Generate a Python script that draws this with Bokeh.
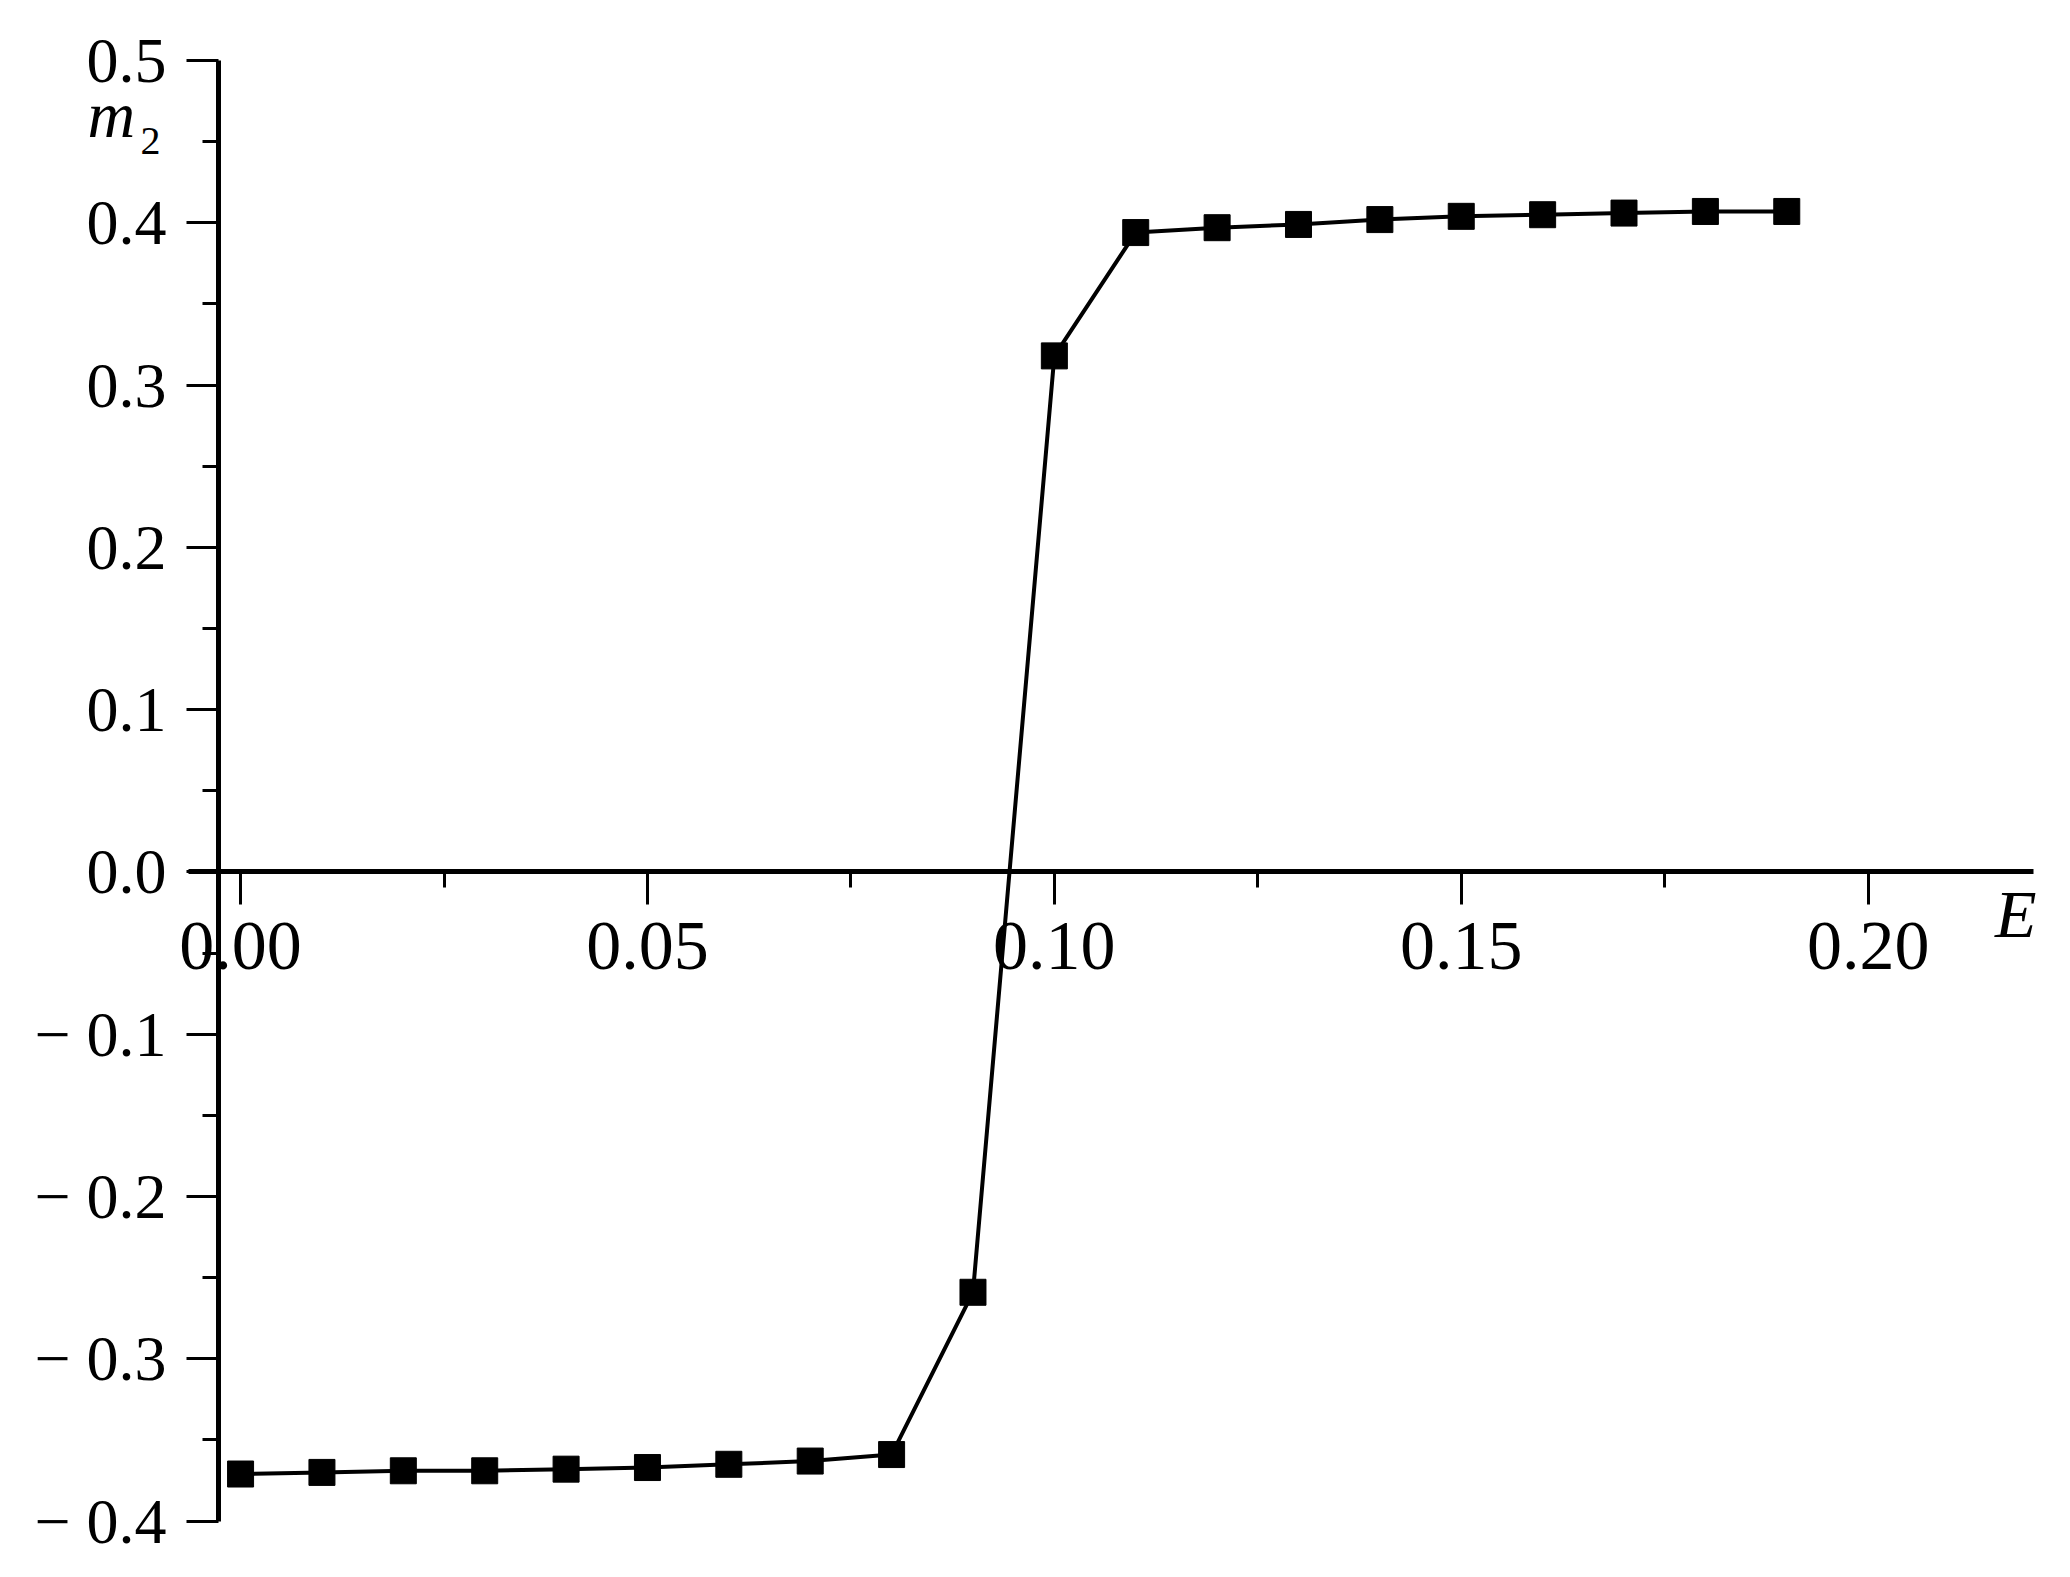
from bokeh.plotting import figure
from bokeh.models import Range1d, FixedTicker, Label
from bokeh.embed import file_html
from bokeh.resources import INLINE

# ---- data ----
E_vals = [0.00, 0.01, 0.02, 0.03, 0.04, 0.05, 0.06, 0.07, 0.08, 0.09,
          0.10, 0.11, 0.12, 0.13, 0.14, 0.15, 0.16, 0.17, 0.18, 0.19]
m2_vals = [-0.371, -0.370, -0.369, -0.369, -0.368, -0.367, -0.365, -0.363, -0.359, -0.259,
           0.318, 0.394, 0.397, 0.399, 0.402, 0.404, 0.405, 0.406, 0.407, 0.407]

x_ticks = [0.0, 0.05, 0.10, 0.15, 0.20]
x_tick_labels = ["0.00", "0.05", "0.10", "0.15", "0.20"]
x_minor = [0.025, 0.075, 0.125, 0.175]
y_ticks = [-0.4, -0.3, -0.2, -0.1, 0.0, 0.1, 0.2, 0.3, 0.4, 0.5]
y_tick_labels = ["\u2212 0.4", "\u2212 0.3", "\u2212 0.2", "\u2212 0.1", "0.0", "0.1", "0.2", "0.3", "0.4", "0.5"]
y_minor = [-0.35, -0.25, -0.15, -0.05, 0.05, 0.15, 0.25, 0.35, 0.45]

# view ranges and axis extents (data coordinates)
X_START, X_END = -0.0295, 0.2229
Y_START, Y_END = -0.4249, 0.5370
X_AXIS_BOUNDS = (-0.0064, 0.2203)
Y_AXIS_BOUNDS = (-0.4, 0.5)
YAXIS_AT = -0.0027      # where the vertical axis crosses
XAXIS_AT = 0.0          # where the horizontal axis crosses

FONT = "Liberation Serif"

p = figure(width=2054, height=1561, output_backend="svg", toolbar_location=None,
           x_range=Range1d(X_START, X_END), y_range=Range1d(Y_START, Y_END),
           min_border_left=0, min_border_top=0, min_border_bottom=0, min_border_right=0)
p.outline_line_color = None
p.grid.visible = False
p.background_fill_color = "white"
p.border_fill_color = "white"

# data
p.line(E_vals, m2_vals, line_color="black", line_width=4)
p.scatter(E_vals, m2_vals, marker="square", size=26, fill_color="black", line_color="black")

# x axis (through y = 0)
xa = p.xaxis[0]
xa.fixed_location = XAXIS_AT
xa.bounds = X_AXIS_BOUNDS
xa.ticker = FixedTicker(ticks=x_ticks, minor_ticks=x_minor)
xa.major_label_overrides = {t: l for t, l in zip(x_ticks, x_tick_labels)}
xa.axis_line_width = 5
xa.axis_line_color = "black"
xa.major_tick_in = 0
xa.major_tick_out = 33
xa.minor_tick_in = 0
xa.minor_tick_out = 16
xa.major_tick_line_width = 3
xa.minor_tick_line_width = 3
xa.major_tick_line_color = "black"
xa.minor_tick_line_color = "black"
xa.major_label_text_font = FONT
xa.major_label_text_font_size = "70px"
xa.major_label_text_color = "black"
xa.major_label_standoff = 18

# y axis
ya = p.yaxis[0]
ya.fixed_location = YAXIS_AT
ya.bounds = Y_AXIS_BOUNDS
ya.ticker = FixedTicker(ticks=y_ticks, minor_ticks=y_minor)
ya.major_label_overrides = {t: l for t, l in zip(y_ticks, y_tick_labels)}
ya.axis_line_width = 5
ya.axis_line_color = "black"
ya.major_tick_in = 0
ya.major_tick_out = 32
ya.minor_tick_in = 0
ya.minor_tick_out = 16
ya.major_tick_line_width = 3
ya.minor_tick_line_width = 3
ya.major_tick_line_color = "black"
ya.minor_tick_line_color = "black"
ya.major_label_text_font = FONT
ya.major_label_text_font_size = "64px"
ya.major_label_text_color = "black"
ya.major_label_standoff = 20

# axis titles
p.add_layout(Label(x=-0.0188, y=0.4667, text="m", text_font=FONT, text_font_style="italic",
                   text_font_size="66px", text_color="black", text_baseline="alphabetic"))
p.add_layout(Label(x=-0.01230, y=0.4505, text="2", text_font=FONT,
                   text_font_size="40px", text_color="black", text_baseline="alphabetic"))
p.add_layout(Label(x=0.2156, y=-0.0259, text="E", text_font=FONT, text_font_style="italic",
                   text_font_size="68px", text_color="black", text_baseline="alphabetic"))

open("out.html", "w").write(file_html(p, INLINE))
